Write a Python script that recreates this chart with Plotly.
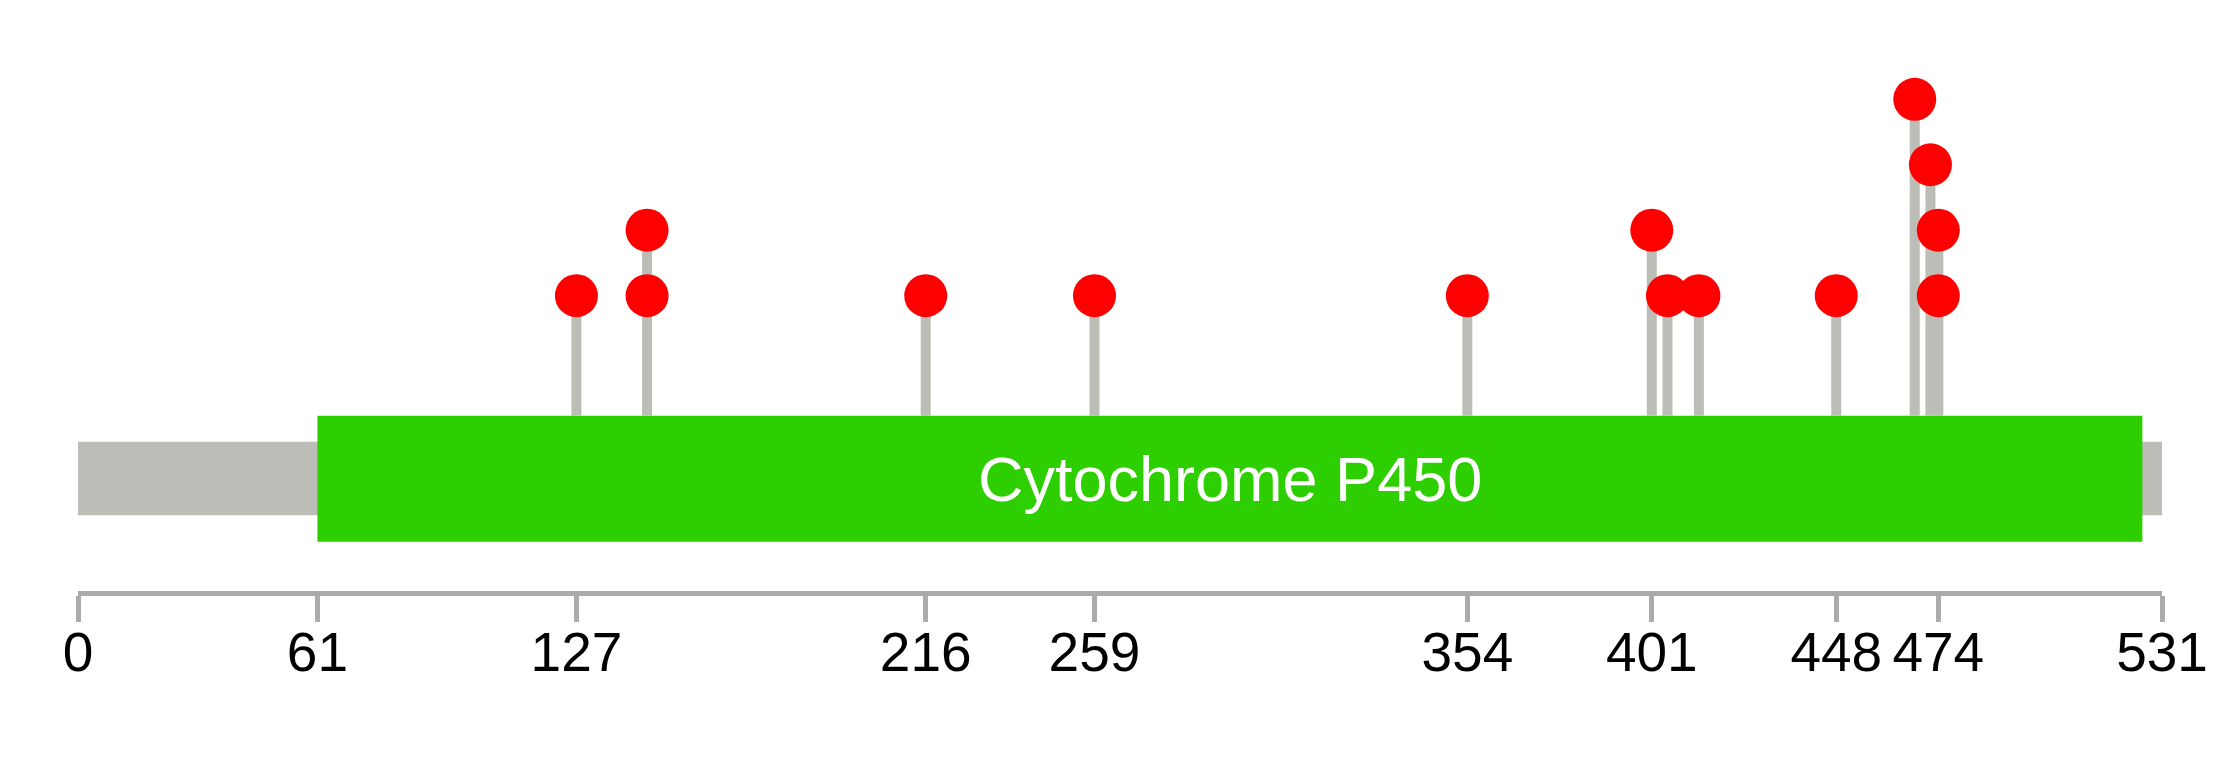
import plotly.graph_objects as go

# ---- data ----
protein_length = 531
domain_name = "Cytochrome P450"
domain_start = 61
domain_end = 526
tick_positions = [0, 61, 127, 216, 259, 354, 401, 448, 474, 531]
mut_positions = [127, 145, 145, 216, 259, 354, 401, 405, 413, 448, 468, 472, 474, 474]
mut_levels = [1, 1, 2, 1, 1, 1, 2, 1, 1, 1, 4, 3, 1, 2]

# ---- styling constants ----
GRAY = "#bbbdb6"
AXIS_GRAY = "#ababab"
GREEN = "#2ecf00"
RED = "#ff0000"
FONT = "Liberation Sans, Arial, sans-serif"

Y_MIN, Y_MAX = -3.512, 5.517
BACKBONE_Y = (-2.355, -1.231)
DOMAIN_Y = (-2.758, -0.833)
STEM_BASE = -0.833

fig = go.Figure()

# stems
stem_top = {}
for p, l in zip(mut_positions, mut_levels):
    stem_top[p] = max(stem_top.get(p, 0), l)
sx, sy = [], []
for p, top in stem_top.items():
    sx += [p, p, None]
    sy += [STEM_BASE, top, None]
fig.add_trace(go.Scatter(x=sx, y=sy, mode="lines",
                         line=dict(color=GRAY, width=10),
                         hoverinfo="skip", showlegend=False))

# lollipop heads
fig.add_trace(go.Scatter(x=mut_positions, y=mut_levels, mode="markers",
                         marker=dict(size=43, color=RED, line=dict(width=0)),
                         showlegend=False, cliponaxis=False))

# backbone and domain
fig.add_shape(type="rect", x0=0, x1=protein_length, y0=BACKBONE_Y[0], y1=BACKBONE_Y[1],
              fillcolor=GRAY, line=dict(width=0), layer="below")
fig.add_shape(type="rect", x0=domain_start, x1=domain_end, y0=DOMAIN_Y[0], y1=DOMAIN_Y[1],
              fillcolor=GREEN, line=dict(width=0), layer="below")
fig.add_annotation(x=(domain_start + domain_end) / 2, y=sum(DOMAIN_Y) / 2,
                   text=domain_name, showarrow=False,
                   font=dict(family=FONT, size=63, color="white"),
                   xanchor="center", yanchor="middle")

fig.update_layout(
    width=2239, height=776,
    margin=dict(l=78, r=77, t=0, b=185),
    paper_bgcolor="white", plot_bgcolor="white",
    showlegend=False,
    hovermode=False,
    xaxis=dict(range=[0, protein_length], tickvals=tick_positions,
               ticktext=[str(t) for t in tick_positions],
               showgrid=False, zeroline=False,
               showline=True, linewidth=5, linecolor=AXIS_GRAY,
               ticks="outside", ticklen=26, tickwidth=5, tickcolor=AXIS_GRAY,
               ticklabelstandoff=-17,
               tickfont=dict(family=FONT, size=55, color="black"),
               fixedrange=True),
    yaxis=dict(range=[Y_MIN, Y_MAX], visible=False, showgrid=False,
               zeroline=False, fixedrange=True),
)

fig.write_html("out.html", config={"displayModeBar": False},
               post_script="document.body.style.margin='0';")
